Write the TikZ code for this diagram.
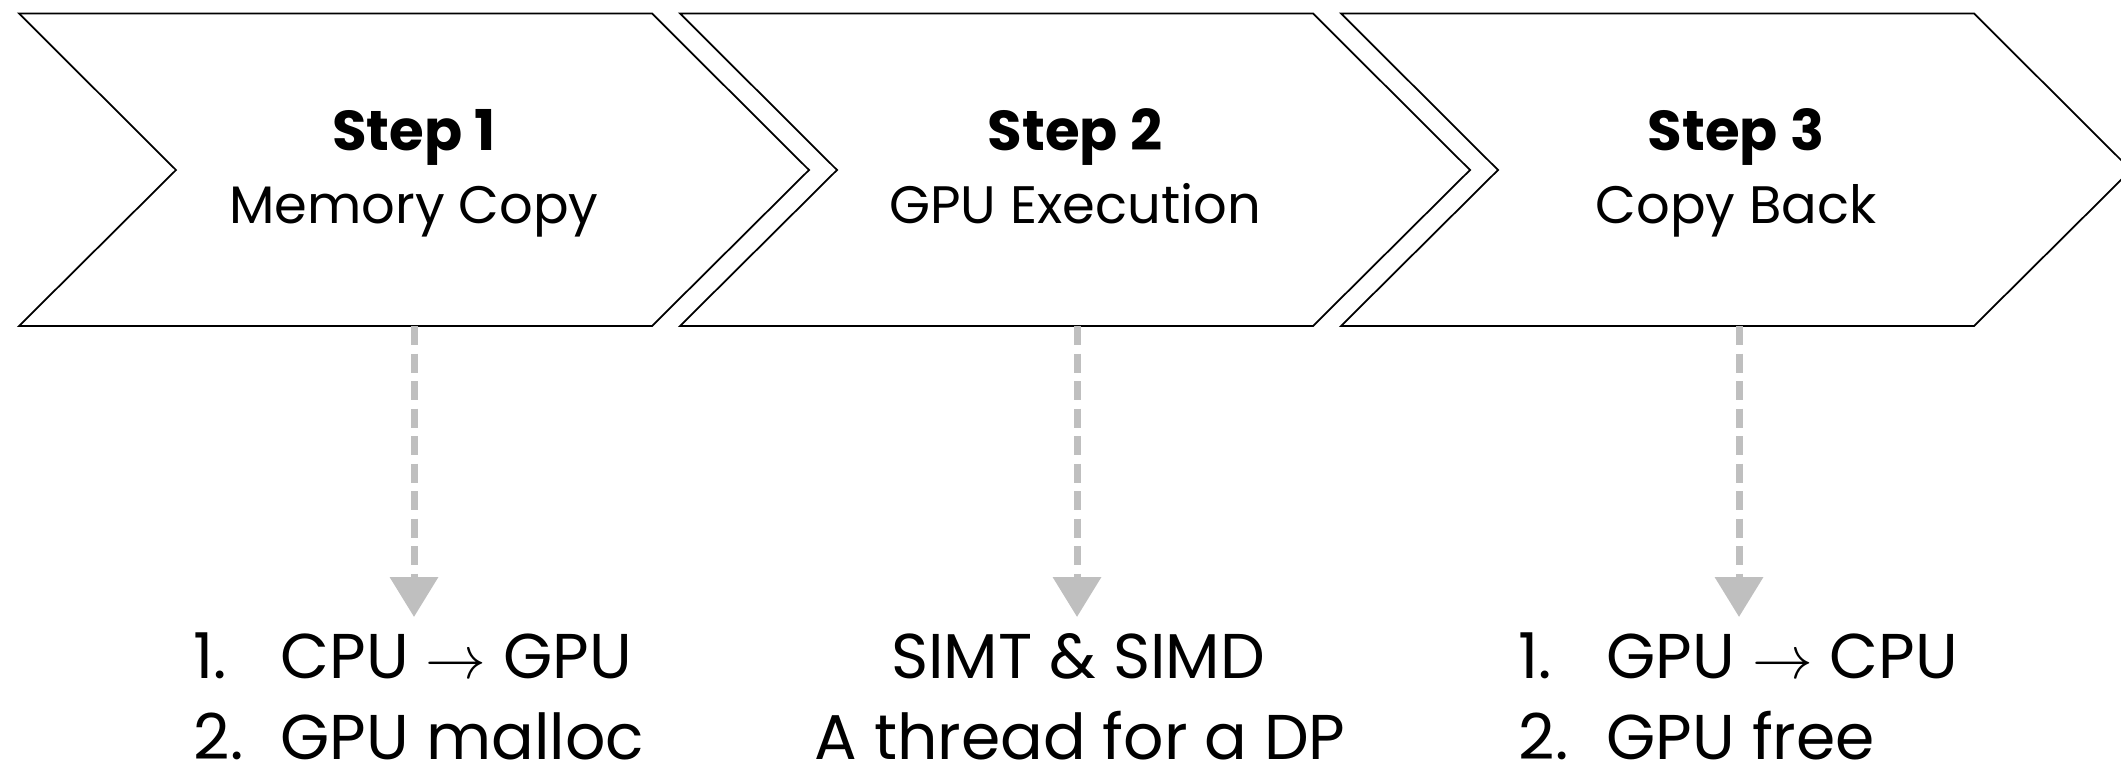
\documentclass[tikz,border=0pt]{standalone}
\usepackage{fontspec}
\setmainfont{Poppins}
\usetikzlibrary{arrows.meta}
\definecolor{arrgray}{HTML}{BFBFBF}
\begin{document}
\begin{tikzpicture}[x=0.1mm,y=-0.1mm,
  chev/.style={draw=black,line width=0.5pt,fill=white,line join=miter},
  head/.style={anchor=base,font=\fontsize{16}{20.8}\selectfont\bfseries,inner sep=0pt},
  sub/.style={anchor=base,font=\fontsize{15}{19.5}\selectfont,inner sep=0pt},
  item/.style={font=\fontsize{18}{23.6}\selectfont,inner sep=0pt},
  flow/.style={draw=arrgray,line width=0.7mm,dash pattern=on 1.9mm off 0.85mm,
    -{Triangle[width=4.7mm,length=4mm,fill=arrgray]}}
]
\useasboundingbox (0,0) rectangle (2121,773);
% chevrons
\draw[chev] (19,13.5) -- (652,13.5) -- (809,170) -- (652,326) -- (19,326) -- (176,170) -- cycle;
\draw[chev] (680,13.5) -- (1313,13.5) -- (1470,170) -- (1313,326) -- (680,326) -- (837,170) -- cycle;
\draw[chev] (1341,13.5) -- (1974,13.5) -- (2131,170) -- (1974,326) -- (1341,326) -- (1498,170) -- cycle;
% titles
\node[head] (t1a) at (414,150) {Step 1};
\node[sub]  (t1b) at (414,223) {Memory Copy};
\node[head] (t2a) at (1075,150) {Step 2};
\node[sub]  (t2b) at (1075,223) {GPU Execution};
\node[head] (t3a) at (1736,150) {Step 3};
\node[sub]  (t3b) at (1736,223) {Copy Back};
% arrow endpoints
\coordinate (a1s) at (414,326); \coordinate (a1e) at (414,617);
\coordinate (a2s) at (1077,326); \coordinate (a2e) at (1077,617);
\coordinate (a3s) at (1739,326); \coordinate (a3e) at (1739,617);
\draw[flow] (a1s) -- (a1e);
\draw[flow] (a2s) -- (a2e);
\draw[flow] (a3s) -- (a3e);
% lists
\node[item,anchor=base west] (l11) at (193,678) {\makebox[8.7mm][l]{1.}CPU $\rightarrow$ GPU};
\node[item,anchor=base west] (l12) at (193,759) {\makebox[8.7mm][l]{2.}GPU malloc};
\node[item,anchor=base] (l21) at (1078,678) {SIMT \& SIMD};
\node[item,anchor=base] (l22) at (1080,759) {A thread for a DP};
\node[item,anchor=base west] (l31) at (1518,678) {\makebox[8.8mm][l]{1.}GPU $\rightarrow$ CPU};
\node[item,anchor=base west] (l32) at (1518,759) {\makebox[8.8mm][l]{2.}GPU free};
\end{tikzpicture}
\end{document}
